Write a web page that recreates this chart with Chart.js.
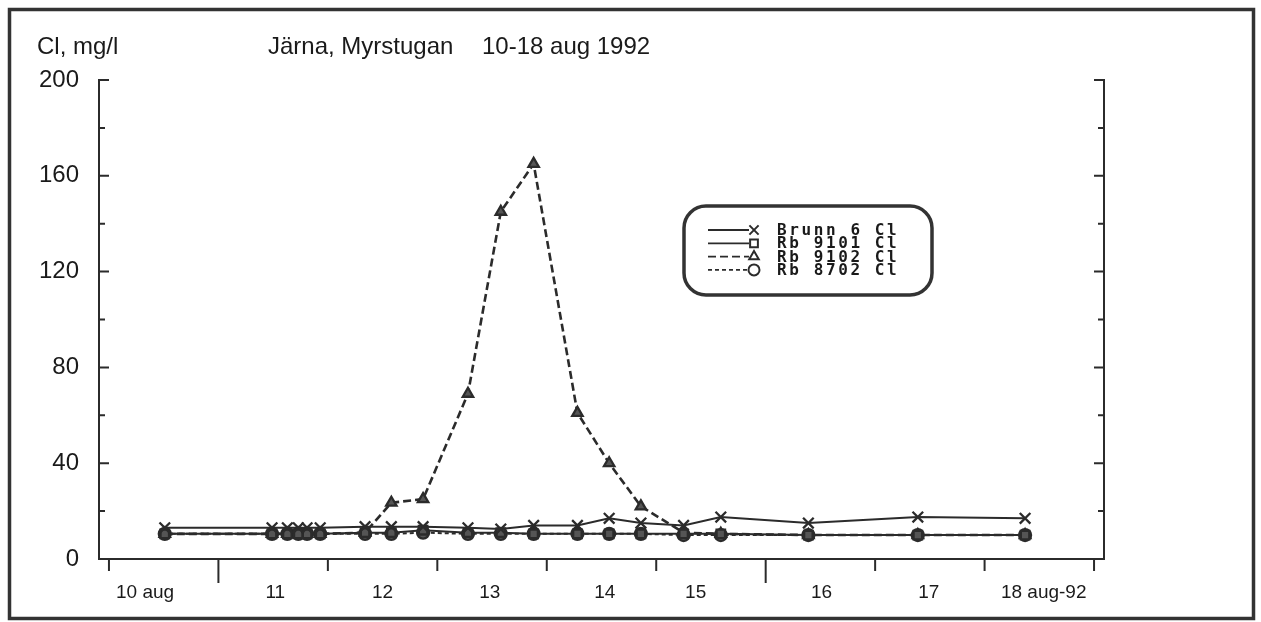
<!DOCTYPE html>
<html>
<head>
<meta charset="utf-8">
<script src="https://cdn.jsdelivr.net/npm/chart.js@4.4.1/dist/chart.umd.min.js"></script>
<style>
  body { margin: 0; background: #fff; }
</style>
</head>
<body>
<canvas id="chlorideChart" width="1261" height="622"></canvas>
<script>
// sample times, in days of August 1992
const sampleDays = [10.51, 11.49, 11.63, 11.73, 11.81, 11.93, 12.34, 12.58, 12.87, 13.28,
                    13.58, 13.88, 14.28, 14.57, 14.86, 15.25, 15.59, 16.39, 17.39, 18.37];

const brunn6 = [13, 13, 13, 13, 13, 13, 13.5, 13.5, 13.5, 13, 12.5, 14, 14, 17, 15, 14, 17.5, 15, 17.5, 17];
const rb9101 = [10.5, 10.5, 10.5, 10.5, 10.5, 10.5, 11, 11, 12, 11, 11, 10.5, 10.5, 10.5, 10.5, 10.5, 10.5, 10, 10, 10];
const rb9102 = [10.5, 10.5, 10.5, 10.5, 10.5, 10.5, 11, 23.5, 25, 69, 145, 165, 61, 40, 22, 11, 10.5, 10, 10, 10];
const rb8702 = [10.5, 10.5, 10.5, 10.5, 10.5, 10.5, 10.5, 10.5, 11, 10.5, 10.5, 10.5, 10.5, 10.5, 10.5, 10, 10, 10, 10, 10];

const dayLabels = ['10 aug', '11', '12', '13', '14', '15', '16', '17', '18 aug-92'];
const labelDays = [10.33, 11.52, 12.5, 13.48, 14.53, 15.36, 16.51, 17.49, 18.54];
const longTickDays = [11, 16];

const ink = '#2b2b2b';

function toPoints(values) {
    return values.map((v, i) => ({ x: sampleDays[i], y: v }));
}

function makeSet(label, values, style, dash, width, radius) {
    return {
        label: label,
        data: toPoints(values),
        borderColor: ink,
        backgroundColor: '#555',
        borderWidth: width,
        borderDash: dash,
        pointStyle: style,
        pointRadius: radius,
        pointBorderWidth: 2.3,
        pointBorderColor: ink,
        pointBackgroundColor: '#555',
        tension: 0,
        fill: false
    };
}

const pagePlugin = {
    id: 'page',
    beforeDraw(chart) {
        const ctx = chart.ctx;
        ctx.save();
        ctx.fillStyle = '#fff';
        ctx.fillRect(0, 0, chart.width, chart.height);
        ctx.restore();
    },
    afterDraw(chart) {
        const ctx = chart.ctx;
        const area = chart.chartArea;
        const xs = chart.scales.x;
        const ys = chart.scales.y;
        ctx.save();

        // outer frame
        ctx.strokeStyle = '#333';
        ctx.lineWidth = 3.5;
        ctx.strokeRect(9.5, 9.5, 1244, 609);

        // titles
        ctx.fillStyle = '#1a1a1a';
        ctx.font = '24px "Liberation Sans", Arial, sans-serif';
        ctx.textBaseline = 'alphabetic';
        ctx.textAlign = 'left';
        ctx.fillText('Cl, mg/l', 37, 54);
        ctx.fillText('Järna, Myrstugan', 268, 54);
        ctx.fillText('10-18 aug 1992', 482, 54);

        // inward ticks on both y axes
        ctx.strokeStyle = ink;
        ctx.lineWidth = 2;
        ys.ticks.forEach(t => {
            const py = ys.getPixelForValue(t.value);
            const len = t.value % 40 === 0 ? 10 : 6;
            ctx.beginPath();
            ctx.moveTo(area.left, py);
            ctx.lineTo(area.left + len, py);
            ctx.moveTo(area.right, py);
            ctx.lineTo(area.right - len, py);
            ctx.stroke();
        });

        // day ticks below the x axis
        for (let d = Math.ceil(xs.min); d <= xs.max; d++) {
            const px = xs.getPixelForValue(d);
            const len = longTickDays.includes(d) ? 24 : 12;
            ctx.beginPath();
            ctx.moveTo(px, area.bottom);
            ctx.lineTo(px, area.bottom + len);
            ctx.stroke();
        }

        // legend box
        const bx = 684, by = 206, bw = 248, bh = 89, r = 22;
        ctx.lineWidth = 3.5;
        ctx.strokeStyle = '#333';
        ctx.beginPath();
        ctx.roundRect(bx, by, bw, bh, r);
        ctx.stroke();

        ctx.font = 'bold 16px "DejaVu Sans Mono", monospace';
        ctx.letterSpacing = '2.6px';
        ctx.textBaseline = 'middle';
        chart.data.datasets.forEach((ds, i) => {
            const ly = 230 + i * 13.3;
            ctx.strokeStyle = ink;
            ctx.lineWidth = 1.8;
            ctx.setLineDash(ds.borderDash || []);
            ctx.beginPath();
            ctx.moveTo(708, ly);
            ctx.lineTo(749, ly);
            ctx.stroke();
            ctx.setLineDash([]);
            ctx.fillStyle = '#fff';
            ctx.lineWidth = 2;
            const rad = ds.pointStyle === 'crossRot' ? 6.5 : 5.5;
            Chart.helpers.drawPoint(ctx, { pointStyle: ds.pointStyle, radius: rad, rotation: 0, borderWidth: 2 }, 754, ly);
            ctx.fillStyle = '#1a1a1a';
            ctx.fillText(ds.label, 777, ly + 1);
        });

        ctx.restore();
    }
};

const chloridChart = new Chart(document.getElementById('chlorideChart').getContext('2d'), {
    type: 'line',
    data: {
        datasets: [
            makeSet('Brunn 6 Cl', brunn6, 'crossRot', [], 2, 7.5),
            makeSet('Rb 9101 Cl', rb9101, 'rect', [], 2, 6),
            makeSet('Rb 9102 Cl', rb9102, 'triangle', [8, 4], 2.6, 6),
            makeSet('Rb 8702 Cl', rb8702, 'circle', [4, 3], 2, 6)
        ]
    },
    options: {
        responsive: false,
        devicePixelRatio: 1,
        animation: false,
        layout: { padding: { top: 80, left: 0, right: 0, bottom: 0 } },
        plugins: {
            legend: { display: false },
            title: { display: false },
            tooltip: { enabled: false }
        },
        scales: {
            x: {
                type: 'linear',
                position: 'bottom',
                min: 9.909,
                max: 19.091,
                afterBuildTicks: axis => { axis.ticks = labelDays.map(v => ({ value: v })); },
                afterFit: axis => { axis.height = 63; },
                ticks: {
                    autoSkip: false,
                    maxRotation: 0,
                    padding: 14,
                    color: '#1a1a1a',
                    font: { family: '"Liberation Sans", Arial, sans-serif', size: 19 },
                    callback: (value, index) => dayLabels[index]
                },
                grid: { display: false },
                border: { color: ink, width: 2 }
            },
            y: {
                type: 'linear',
                position: 'left',
                min: 0,
                max: 200,
                afterFit: axis => { axis.width = 99; },
                ticks: {
                    stepSize: 20,
                    padding: 12,
                    color: '#1a1a1a',
                    font: { family: '"Liberation Sans", Arial, sans-serif', size: 24 },
                    callback: value => (value % 40 === 0 ? value : '')
                },
                grid: { display: false },
                border: { color: ink, width: 2 }
            },
            y2: {
                type: 'linear',
                position: 'right',
                min: 0,
                max: 200,
                afterFit: axis => { axis.width = 157; },
                ticks: { display: false },
                grid: { display: false },
                border: { color: ink, width: 2 }
            }
        }
    },
    plugins: [pagePlugin]
});
</script>
</body>
</html>
